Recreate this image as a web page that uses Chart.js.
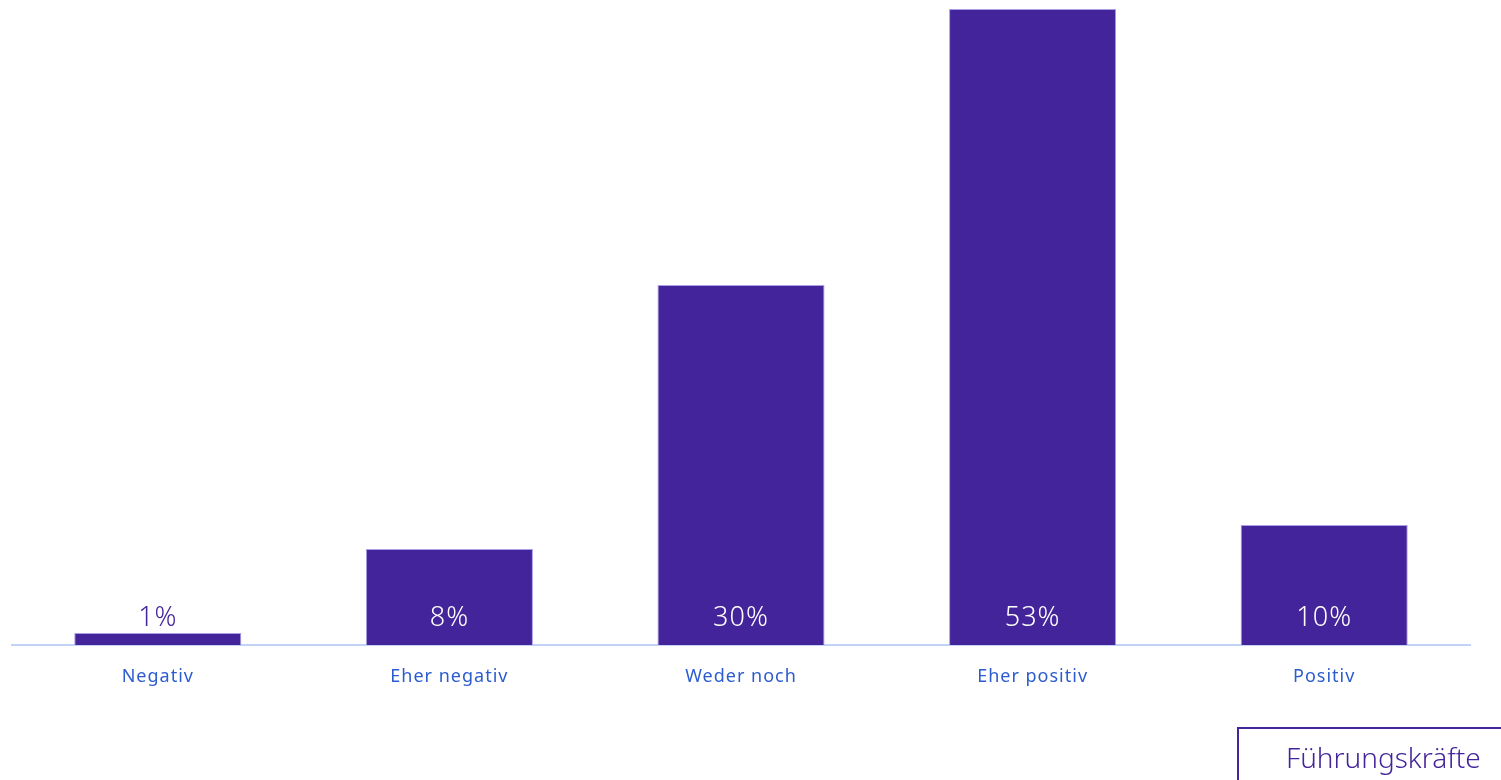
<!DOCTYPE html>
<html>
<head>
<meta charset="utf-8">
<script src="https://cdn.jsdelivr.net/npm/chart.js@4"></script>
<style>
  html,body{margin:0;padding:0;background:#fff;}
  #wrap{position:relative;width:1501px;height:780px;overflow:hidden;}
  #legendBox{position:absolute;left:1237px;top:727px;width:300px;height:100px;border:2px solid #43249a;box-sizing:border-box;
    font:300 28px "Noto Sans",sans-serif;color:#43249a;padding:9px 0 0 47px;}
</style>
</head>
<body>
<div id="wrap">
  <canvas id="c" width="1501" height="780"></canvas>
  <div id="legendBox">Führungskräfte</div>
</div>
<script>
const categories=['Negativ','Eher negativ','Weder noch','Eher positiv','Positiv'];
const values=[1,8,30,53,10];

const purple='#43249a';

const valueLabels={
  id:'valueLabels',
  afterDatasetsDraw(chart){
    const {ctx}=chart;
    const meta=chart.getDatasetMeta(0);
    const base=chart.scales.y.getPixelForValue(0);
    ctx.save();
    ctx.font='300 27px "Noto Sans", sans-serif';
    ctx.textAlign='center';
    ctx.textBaseline='middle';
    meta.data.forEach((bar,i)=>{
      const y=base-27;
      ctx.fillStyle=bar.y<y-14?'#ffffff':purple;
      ctx.fillText(values[i]+'%',bar.x,y);
    });
    ctx.restore();
  }
};

const spacing={
  id:'spacing',
  beforeDraw(chart){ chart.ctx.letterSpacing='1px'; },
  afterDraw(chart){ chart.ctx.letterSpacing='0px'; }
};

new Chart(document.getElementById('c').getContext('2d'),{
  type:'bar',
  data:{labels:categories,datasets:[{data:values,backgroundColor:purple,borderColor:'#a89ee6',borderWidth:1,
    categoryPercentage:1,barPercentage:0.573}]},
  options:{responsive:false,animation:false,
    layout:{padding:{left:12,right:31,top:9,bottom:0}},
    plugins:{legend:{display:false},tooltip:{enabled:false}},
    scales:{
      y:{display:false,min:0,max:53},
      x:{grid:{display:false},border:{color:'#c2d4f6',width:2},
        ticks:{color:'#2c5ccf',font:{family:'"Noto Sans", sans-serif',size:18},padding:13},
        afterFit(s){s.height=135;}}
    }},
  plugins:[valueLabels,spacing]
});
</script>
</body>
</html>
